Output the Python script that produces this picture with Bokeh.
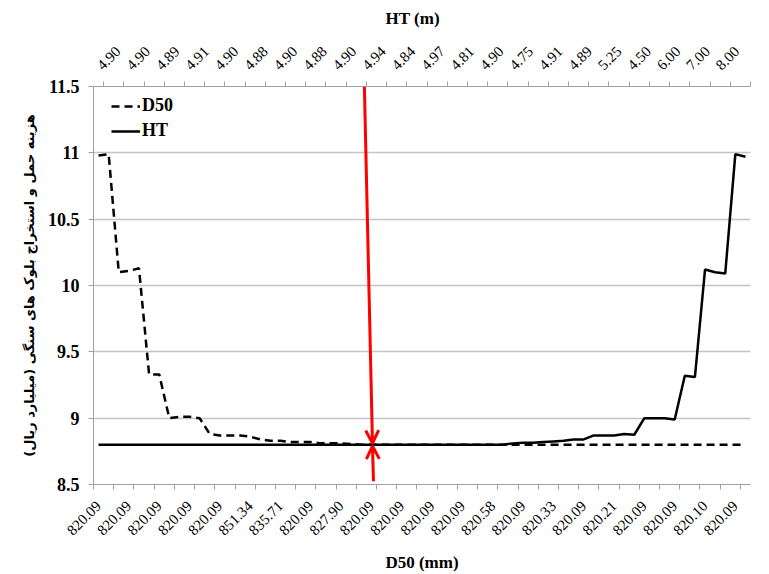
import math
from bokeh.plotting import figure
from bokeh.layouts import column
from bokeh.models import (Range1d, LinearAxis, FixedTicker, Legend, LegendItem,
                          Arrow, OpenHead, AllLabels)
from bokeh.core.properties import value
from bokeh.embed import file_html
from bokeh.resources import INLINE

# ---------------- data ----------------
d50_labels = ["820.09", "820.09", "820.09", "820.09", "820.09", "851.34", "835.71",
              "820.09", "827.90", "820.09", "820.09", "820.09", "820.09", "820.58",
              "820.09", "820.33", "820.09", "820.21", "820.09", "820.09", "820.10",
              "820.09"]
ht_labels = ["4.90", "4.90", "4.89", "4.91", "4.90", "4.88", "4.90", "4.88", "4.90",
             "4.94", "4.84", "4.97", "4.81", "4.90", "4.75", "4.91", "4.89", "5.25",
             "4.50", "6.00", "7.00", "8.00"]

# cost (billion rials) per category, D50 series (bottom axis)
d50_cost = [10.98, 10.99, 10.10, 10.11, 10.13, 9.33, 9.33, 9.00, 9.01, 9.01,
            9.00, 8.88, 8.87, 8.87, 8.87, 8.86, 8.84, 8.83, 8.83, 8.82,
            8.82, 8.82, 8.81, 8.81, 8.81, 8.805, 8.80, 8.80, 8.80, 8.80,
            8.80, 8.80, 8.80, 8.80, 8.80, 8.80, 8.80, 8.80, 8.80, 8.80,
            8.80, 8.80, 8.80, 8.80, 8.80, 8.80, 8.80, 8.80, 8.80, 8.80,
            8.80, 8.80, 8.80, 8.80, 8.80, 8.80, 8.80, 8.80, 8.80, 8.80,
            8.80, 8.80, 8.80, 8.80, 8.80]
# cost per category, HT series (top axis)
ht_cost = [8.80, 8.80, 8.80, 8.80, 8.80, 8.80, 8.80, 8.80, 8.80, 8.80,
           8.80, 8.80, 8.80, 8.80, 8.80, 8.80, 8.80, 8.80, 8.80, 8.80,
           8.80, 8.80, 8.80, 8.80, 8.80, 8.80, 8.80, 8.80, 8.80, 8.80,
           8.80, 8.80, 8.80, 8.80, 8.80, 8.80, 8.80, 8.80, 8.80, 8.80,
           8.80, 8.81, 8.815, 8.815, 8.82, 8.825, 8.83, 8.84, 8.84, 8.87,
           8.87, 8.87, 8.88, 8.875, 9.00, 9.00, 9.00, 8.99, 9.32, 9.31,
           10.12, 10.10, 10.09, 10.99, 10.97]

y_ticks = [8.5, 9.0, 9.5, 10.0, 10.5, 11.0, 11.5]
y_tick_labels = ["8.5", "9", "9.5", "10", "10.5", "11", "11.5"]

# optimum marker (red arrows), in data units
arrow_top = (26.3, 11.5)
arrow_tip_down = (27.1, 8.81)
arrow_bottom = (27.2, 8.525)
arrow_tip_up = (27.1, 8.79)

TICK_INTERVAL = 2
LABEL_INTERVAL = 3

# ---------------- layout constants (pixels) ----------------
W, H = 769, 574
TOP_H = 76            # strip holding the top-axis labels and title
FRAME_L, FRAME_R = 93, 19
FRAME_T, FRAME_B = 86, 89
TOP_LABEL_Y = 67      # page y of the slanted top labels' anchor
TOP_TITLE_Y = 18      # page y of the top axis title
SERIF = "Liberation Serif"
AXIS_COL = "#a0a0a0"

n = len(d50_cost)
xs = list(range(n))
label_pos = [i * LABEL_INTERVAL for i in range(len(d50_labels))]
bottom_ticks = [-0.5 + j * TICK_INTERVAL for j in range(n // TICK_INTERVAL + 1)]
top_ticks = [0.5 + j * TICK_INTERVAL for j in range(n // TICK_INTERVAL + 1)]

# ---------------- main chart ----------------
p = figure(width=W, height=H - TOP_H, output_backend="svg", toolbar_location=None,
           x_range=Range1d(-0.5, n - 0.5), y_range=Range1d(8.5, 11.5),
           x_axis_location=None, y_axis_location=None,
           min_border_left=FRAME_L, min_border_right=FRAME_R,
           min_border_top=FRAME_T - TOP_H, min_border_bottom=FRAME_B)
p.outline_line_color = None
p.background_fill_color = "white"
p.border_fill_color = "white"

bottom_axis = LinearAxis(ticker=FixedTicker(ticks=label_pos, minor_ticks=bottom_ticks),
                         major_label_overrides={pos: lab for pos, lab in zip(label_pos, d50_labels)},
                         major_label_policy=AllLabels(),
                         major_label_orientation=math.pi / 4)
bottom_axis.axis_line_color = AXIS_COL
bottom_axis.major_tick_in = 0
bottom_axis.major_tick_out = 0
bottom_axis.minor_tick_in = 0
bottom_axis.minor_tick_out = 5
bottom_axis.minor_tick_line_color = AXIS_COL
bottom_axis.major_label_text_font = SERIF
bottom_axis.major_label_text_font_size = "15px"
bottom_axis.major_label_text_color = "black"
bottom_axis.major_label_standoff = 14
bottom_axis.axis_label = "D50 (mm)"
bottom_axis.axis_label_text_font = SERIF
bottom_axis.axis_label_text_font_style = "bold"
bottom_axis.axis_label_text_font_size = "17px"
bottom_axis.axis_label_text_color = "black"
bottom_axis.axis_label_standoff = 10
p.add_layout(bottom_axis, "below")

# top axis line + tick marks (its labels live in the strip above)
top_axis = LinearAxis(ticker=FixedTicker(ticks=top_ticks))
top_axis.axis_line_color = AXIS_COL
top_axis.major_tick_in = 0
top_axis.major_tick_out = 5
top_axis.major_tick_line_color = AXIS_COL
top_axis.minor_tick_line_color = None
top_axis.major_label_text_color = None
top_axis.major_label_text_font_size = "1px"
top_axis.major_label_standoff = 0
p.add_layout(top_axis, "above")

y_axis = LinearAxis(ticker=FixedTicker(ticks=y_ticks),
                    major_label_overrides={t: s for t, s in zip(y_ticks, y_tick_labels)})
y_axis.major_tick_in = 0
y_axis.major_tick_out = 5
y_axis.minor_tick_line_color = None
y_axis.major_tick_line_color = AXIS_COL
y_axis.axis_line_color = AXIS_COL
y_axis.major_label_text_font = SERIF
y_axis.major_label_text_font_style = "bold"
y_axis.major_label_text_font_size = "18px"
y_axis.major_label_text_color = "black"
y_axis.major_label_standoff = 9
y_axis.axis_label = "هزینه حمل و استخراج بلوک های سنگی (میلیارد ریال)"
y_axis.axis_label_text_font = "DejaVu Sans"
y_axis.axis_label_text_font_style = "bold"
y_axis.axis_label_text_font_size = "13px"
y_axis.axis_label_text_color = "black"
y_axis.axis_label_standoff = 8
p.add_layout(y_axis, "left")

p.xgrid.visible = False
p.ygrid.ticker = FixedTicker(ticks=y_ticks[1:-1])
p.ygrid.grid_line_color = "#c4c4c4"
p.ygrid.grid_line_width = 1.5

r_d50 = p.line(xs, d50_cost, line_color="black", line_width=2.5, line_dash="8 5")
r_ht = p.line(xs, ht_cost, line_color="black", line_width=2.5)

legend = Legend(items=[LegendItem(label="D50", renderers=[r_d50]),
                       LegendItem(label="HT", renderers=[r_ht])],
                location=(18, 343), padding=4, spacing=4,
                glyph_width=29, glyph_height=20, label_height=20,
                label_standoff=2,
                label_text_font=SERIF, label_text_font_style="bold",
                label_text_font_size="18px", label_text_color="black",
                border_line_color=None, background_fill_alpha=0)
p.add_layout(legend)

RED = "#ff0000"
p.add_layout(Arrow(end=OpenHead(size=13, line_color=RED, line_width=3),
                   x_start=arrow_top[0], y_start=arrow_top[1],
                   x_end=arrow_tip_down[0], y_end=arrow_tip_down[1],
                   line_color=RED, line_width=3))
p.add_layout(Arrow(end=OpenHead(size=13, line_color=RED, line_width=3),
                   x_start=arrow_bottom[0], y_start=arrow_bottom[1],
                   x_end=arrow_tip_up[0], y_end=arrow_tip_up[1],
                   line_color=RED, line_width=3))

# ---------------- top strip: HT category labels and title ----------------
px_per_cat = (W - FRAME_L - FRAME_R) / n
top_x_end = -0.5 + (W - FRAME_L) / px_per_cat
t = figure(width=W, height=TOP_H, output_backend="svg", toolbar_location=None,
           x_range=Range1d(-0.5, top_x_end), y_range=Range1d(0, TOP_H),
           x_axis_location=None, y_axis_location=None,
           min_border_left=FRAME_L, min_border_right=0,
           min_border_top=0, min_border_bottom=0)
t.outline_line_color = None
t.background_fill_color = "white"
t.border_fill_color = "white"
t.grid.visible = False

t.text(x=label_pos, y=[TOP_H - TOP_LABEL_Y] * len(label_pos),
       text=ht_labels, angle=math.pi / 4, x_offset=1,
       text_align="left", text_baseline="middle",
       text_font=value(SERIF), text_font_size="15px", text_color="black")
t.text(x=[(n - 1) / 2], y=[TOP_H - TOP_TITLE_Y], text=["HT (m)"],
       text_align="center", text_baseline="middle",
       text_font=value(SERIF), text_font_style="bold", text_font_size="17px",
       text_color="black")

open("out.html", "w").write(file_html(column(t, p), INLINE))
